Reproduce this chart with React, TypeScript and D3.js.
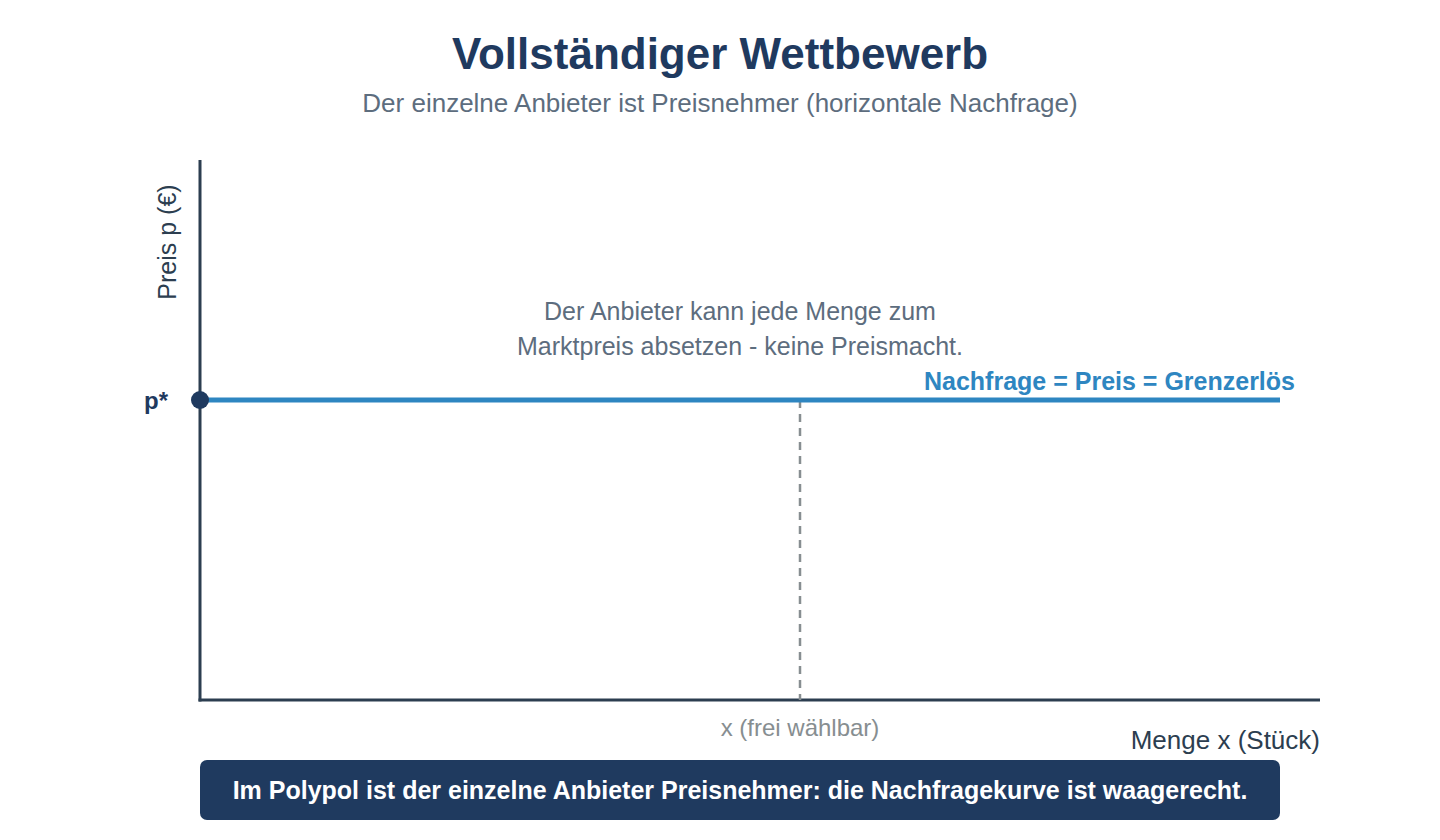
import * as d3 from 'd3';

const WIDTH = 1440;
const HEIGHT = 840;

// model values (abstract units)
const X_DOMAIN = [0, 28];
const Y_DOMAIN = [0, 18];
const P_STAR = 10;
const DEMAND_X = [0, 27];
const CHOSEN_X = 15;

const TITLE = 'Vollständiger Wettbewerb';
const SUBTITLE = 'Der einzelne Anbieter ist Preisnehmer (horizontale Nachfrage)';
const NOTE_LINES = ['Der Anbieter kann jede Menge zum', 'Marktpreis absetzen - keine Preismacht.'];
const DEMAND_LABEL = 'Nachfrage = Preis = Grenzerlös';
const FOOTER = 'Im Polypol ist der einzelne Anbieter Preisnehmer: die Nachfragekurve ist waagerecht.';

const FONT = '"Liberation Sans", Arial, Helvetica, sans-serif';
const NAVY = '#1f3a5f';
const AXIS = '#2c3e50';
const BLUE = '#2e86c1';
const SLATE = '#5d6d7e';
const GREY = '#878e91';

export default function App() {
  const x = d3.scaleLinear().domain(X_DOMAIN).range([200, 1320]);
  const y = d3.scaleLinear().domain(Y_DOMAIN).range([700, 160]);

  const demandLine = d3
    .line<number>()
    .x((d) => x(d))
    .y(() => y(P_STAR));

  return (
    <svg
      width={WIDTH}
      height={HEIGHT}
      style={{ position: 'absolute', left: 0, top: 0, background: '#fff' }}
      fontFamily={FONT}
    >
      <text x={720} y={69} textAnchor="middle" fontSize={44} fontWeight={700} fill={NAVY}>
        {TITLE}
      </text>
      <text x={720} y={112} textAnchor="middle" fontSize={26} fill={SLATE}>
        {SUBTITLE}
      </text>

      {/* axes */}
      <line x1={x(0)} y1={y(Y_DOMAIN[1])} x2={x(0)} y2={y(0) + 1.5} stroke={AXIS} strokeWidth={3} />
      <line x1={x(0) - 1.5} y1={y(0)} x2={x(X_DOMAIN[1])} y2={y(0)} stroke={AXIS} strokeWidth={3} />

      <text
        transform={`translate(176, 242) rotate(-90)`}
        textAnchor="middle"
        fontSize={25}
        fill={AXIS}
      >
        Preis p (€)
      </text>
      <text x={x(X_DOMAIN[1])} y={749} textAnchor="end" fontSize={26} fill={AXIS}>
        Menge x (Stück)
      </text>

      {/* chosen quantity */}
      <line
        x1={x(CHOSEN_X)}
        y1={y(P_STAR)}
        x2={x(CHOSEN_X)}
        y2={y(0)}
        stroke={GREY}
        strokeWidth={2.5}
        strokeDasharray="8,6"
      />
      <text x={x(CHOSEN_X)} y={736} textAnchor="middle" fontSize={24} fill={GREY}>
        x (frei wählbar)
      </text>

      {/* demand */}
      <path d={demandLine(DEMAND_X) ?? ''} stroke={BLUE} strokeWidth={5} fill="none" />
      <circle cx={x(0)} cy={y(P_STAR)} r={9} fill={NAVY} />
      <text x={168} y={y(P_STAR) + 9} textAnchor="end" fontSize={24} fontWeight={700} fill={NAVY}>
        p*
      </text>
      <text
        x={x(DEMAND_X[1]) + 15}
        y={y(P_STAR) - 10}
        textAnchor="end"
        fontSize={25}
        fontWeight={700}
        fill={BLUE}
      >
        {DEMAND_LABEL}
      </text>

      {NOTE_LINES.map((t, i) => (
        <text key={i} x={740} y={320 + i * 35} textAnchor="middle" fontSize={25} fill={SLATE}>
          {t}
        </text>
      ))}

      {/* footer */}
      <rect x={200} y={760} width={1080} height={60} rx={7} fill={NAVY} />
      <text x={740} y={799} textAnchor="middle" fontSize={25} fontWeight={700} fill="#fff">
        {FOOTER}
      </text>
    </svg>
  );
}
